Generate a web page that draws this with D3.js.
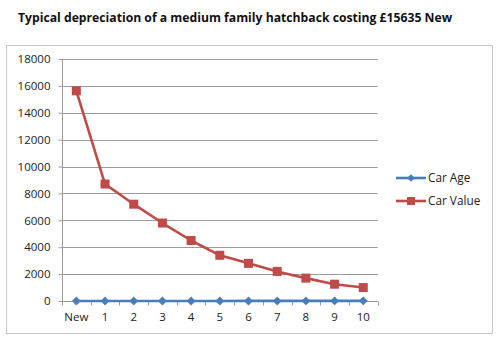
<!DOCTYPE html>
<html><head><meta charset="utf-8">
<script src="https://cdn.jsdelivr.net/npm/d3@7"></script>
<style>body{margin:0;background:#fff}svg{display:block}</style>
</head><body>
<svg id="c" width="500" height="342"></svg>
<script>
const categories = ["New","1","2","3","4","5","6","7","8","9","10"];
const carAge = [0,1,2,3,4,5,6,7,8,9,10];
const carValue = [15635,8700,7200,5800,4500,3400,2800,2200,1700,1250,1000];
const yTicks = [0,2000,4000,6000,8000,10000,12000,14000,16000,18000];
const seriesNames = ["Car Age","Car Value"];
const colors = ["#4A7EBB","#BE4B48"];

const svg = d3.select("#c");
const font = "'Open Sans', 'Liberation Sans', sans-serif";

svg.append("text").attr("x",18).attr("y",22).attr("font-family",font)
  .attr("font-weight","bold").attr("font-size",12.2).attr("fill","#111")
  .text("Typical depreciation of a medium family hatchback costing £15635 New");

svg.append("rect").attr("x",6.5).attr("y",45.5).attr("width",486).attr("height",288)
  .attr("fill","none").attr("stroke","#c8c8c8").attr("stroke-width",1);

const L=62, R=377.6, T=59, B=301;
const x = d3.scaleBand().domain(categories).range([L,R]);
const y = d3.scaleLinear().domain([0,18000]).range([B,T]);

// gridlines
svg.append("g").selectAll("line").data(yTicks.filter(d=>d>0)).join("line")
  .attr("x1",L).attr("x2",R).attr("y1",d=>Math.round(y(d))+0.5).attr("y2",d=>Math.round(y(d))+0.5)
  .attr("stroke","#9a9a9a").attr("stroke-width",1);

// y axis
const ya = svg.append("g").attr("transform",`translate(${L+0.5},0)`)
  .call(d3.axisLeft(y).tickValues(yTicks).tickSize(4).tickPadding(8).tickFormat(d3.format("d")));
ya.select(".domain").attr("stroke","#9a9a9a").attr("d",`M0,${T}V${B}`);
ya.selectAll(".tick line").attr("stroke","#9a9a9a");
ya.selectAll("text").attr("font-family",font).attr("font-size",11.5).attr("fill","#222");

// x axis
const xa = svg.append("g").attr("transform",`translate(0,${B+0.5})`)
  .call(d3.axisBottom(x).tickSize(0).tickPadding(11));
xa.select(".domain").attr("stroke","#9a9a9a").attr("d",`M${L},0H${R}`);
xa.selectAll("text").attr("font-family",font).attr("font-size",11.5).attr("fill","#222");
const bounds = categories.map(c=>x(c)).concat([R]);
xa.append("g").selectAll("line").data(bounds).join("line")
  .attr("x1",d=>Math.round(d)+0.5).attr("x2",d=>Math.round(d)+0.5).attr("y1",0).attr("y2",4)
  .attr("stroke","#9a9a9a");

const cx = c => x(c)+x.bandwidth()/2;
const line = d3.line().x((d,i)=>cx(categories[i])).y(d=>y(d));

const series = [carAge, carValue];
series.forEach((s,k)=>{
  svg.append("path").datum(s).attr("d",line).attr("fill","none")
    .attr("stroke",colors[k]).attr("stroke-width",2.6).attr("stroke-linejoin","round");
});
// markers
svg.append("g").selectAll("path").data(carAge).join("path")
  .attr("d",d3.symbol(d3.symbolSquare,40)())
  .attr("transform",(d,i)=>`translate(${cx(categories[i])},${y(d)}) rotate(45)`)
  .attr("fill",colors[0]);
svg.append("g").selectAll("rect").data(carValue).join("rect")
  .attr("x",(d,i)=>cx(categories[i])-4.5).attr("y",d=>y(d)-4.5)
  .attr("width",9).attr("height",9).attr("fill",colors[1]);

// legend
const lg = svg.append("g");
const ly = [178,201];
seriesNames.forEach((n,k)=>{
  lg.append("line").attr("x1",396).attr("x2",426).attr("y1",ly[k]).attr("y2",ly[k])
    .attr("stroke",colors[k]).attr("stroke-width",2.6);
  if(k===0){
    lg.append("path").attr("d",d3.symbol(d3.symbolSquare,30)())
      .attr("transform",`translate(411,${ly[k]}) rotate(45)`).attr("fill",colors[k]);
  } else {
    lg.append("rect").attr("x",407).attr("y",ly[k]-4).attr("width",8).attr("height",8).attr("fill",colors[k]);
  }
  lg.append("text").attr("x",428).attr("y",ly[k]+4).attr("font-family",font).attr("font-size",11.8)
    .attr("fill","#222").text(n);
});
</script>
</body></html>
